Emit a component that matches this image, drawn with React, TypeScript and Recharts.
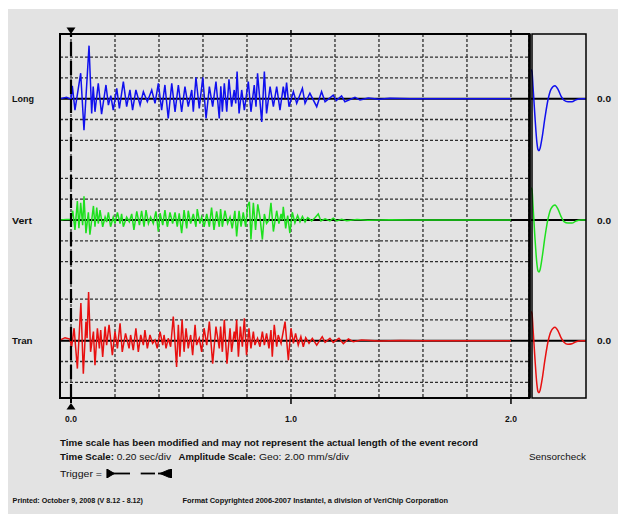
import React from "react";
import { CartesianGrid, Line, LineChart, ReferenceLine, XAxis, YAxis } from "recharts";

// time axis (sec), 0.20 sec/div
const timeTicks = [0, 0.2, 0.4, 0.6, 0.8, 1.0, 1.2, 1.4, 1.6, 1.8, 2.0];
const labelledTicks = [0, 1, 2];
// amplitude grid (mm/s), 2.00 mm/s/div
const gridLevels = [-4, -2, 2, 4];

// [time sec, amplitude mm/s]
const longWave = [
  [-0.05, 0], [-0.02, 0.13], [0, -0.06], [0.006, 1.23], [0.018, -1.1], [0.044, 2.45], [0.059, -3.03],
  [0.082, 5.1], [0.094, -1.42], [0.101, 1.16], [0.109, -1.26], [0.124, 1.48], [0.139, -1.48], [0.159, 1.32],
  [0.17, -0.61], [0.181, 0.3], [0.192, -1.1], [0.208, 1.0], [0.22, -0.94], [0.238, 1.65], [0.253, -0.77],
  [0.268, 0.84], [0.28, -1.1], [0.295, 0.84], [0.314, -0.61], [0.329, 0.68], [0.347, -0.29], [0.367, 0.84],
  [0.382, -0.45], [0.397, 1.48], [0.412, -1.1], [0.427, 1.32], [0.442, -1.9], [0.458, 1.48], [0.473, -1.26],
  [0.488, 1.32], [0.503, -1.26], [0.518, 1.16], [0.533, -0.77], [0.549, 0.84], [0.556, -1.26], [0.568, 2.06],
  [0.583, -0.94], [0.599, 2.06], [0.614, -1.9], [0.629, 1.16], [0.644, -0.77], [0.659, 1.65], [0.674, -1.9],
  [0.681, 1.2], [0.688, -1.26], [0.697, 1.48], [0.708, -1.26], [0.718, 1.87], [0.73, -0.77], [0.742, 0.84],
  [0.749, -0.45], [0.755, 2.61], [0.764, -1.42], [0.776, 0.84], [0.788, -1.1], [0.806, 1.65], [0.818, -1.26],
  [0.833, 1.32], [0.841, -0.77], [0.848, 2.45], [0.867, -2.23], [0.879, 2.61], [0.889, -1.42], [0.905, 1.16],
  [0.92, -0.77], [0.935, 1.16], [0.95, -1.1], [0.965, 1.16], [0.973, 0.03], [0.98, 1.55], [0.991, -0.77],
  [1.011, 0.68], [1.026, -0.45], [1.052, 1.0], [1.064, -0.45], [1.086, 0.52], [1.117, -0.77], [1.139, 0.68],
  [1.155, -0.29], [1.192, 0.35], [1.206, -0.19], [1.23, 0.26], [1.245, -0.29], [1.291, 0.13], [1.314, -0.13],
  [1.351, 0.06], [1.4, -0.05], [1.45, 0.04], [1.54, 0], [2.0, 0],
];

const vertWave = [
  [-0.05, 0], [-0.02, 0.06], [0, 0.06], [0.008, 0.89], [0.018, -0.95], [0.029, 1.82], [0.036, -0.8],
  [0.044, 1.66], [0.053, -0.49], [0.059, 2.28], [0.068, -1.26], [0.079, 0.74], [0.086, -1.42], [0.102, 1.35],
  [0.109, -0.65], [0.117, 1.2], [0.124, -0.34], [0.132, 0.95], [0.144, -0.65], [0.155, 0.28], [0.162, -0.2],
  [0.17, 0.74], [0.18, -0.65], [0.192, 0.28], [0.2, -0.34], [0.211, 0.74], [0.223, -0.34], [0.23, 0.58],
  [0.238, -0.65], [0.253, 0.28], [0.265, -0.18], [0.276, 0.58], [0.286, -0.95], [0.299, 0.83], [0.311, -0.49],
  [0.321, 0.89], [0.332, -0.65], [0.341, 0.95], [0.352, -0.34], [0.362, 0.28], [0.374, -0.34], [0.386, 0.83],
  [0.397, -1.11], [0.405, 0.65], [0.417, -0.49], [0.427, 0.95], [0.438, -0.65], [0.45, 0.74], [0.462, -0.34],
  [0.473, 0.74], [0.483, -0.65], [0.492, 0.65], [0.503, -1.26], [0.514, 0.95], [0.526, -0.8], [0.533, 0.89],
  [0.544, -0.34], [0.556, 0.58], [0.568, -0.65], [0.574, 1.05], [0.586, -0.34], [0.594, 0.28], [0.605, -0.65],
  [0.617, 0.58], [0.629, -0.65], [0.639, 1.2], [0.65, -0.95], [0.662, 0.83], [0.674, -0.65], [0.68, 1.05],
  [0.688, -0.65], [0.7, 0.89], [0.712, -0.34], [0.723, 0.28], [0.733, -0.8], [0.745, 0.89], [0.753, -1.57],
  [0.764, 0.89], [0.773, -0.65], [0.783, 0.74], [0.794, -0.65], [0.803, 1.35], [0.811, 1.75], [0.818, -1.88],
  [0.829, 1.66], [0.839, -0.95], [0.849, 1.51], [0.859, 0.28], [0.87, -1.88], [0.879, 0.58], [0.889, -0.34],
  [0.9, -0.03], [0.909, 1.66], [0.92, -1.11], [0.935, 0.89], [0.945, -0.34], [0.955, 0.58], [0.961, -0.03],
  [0.965, 1.26], [0.976, -0.8], [0.985, 0.43], [0.995, -1.26], [1.006, 0.74], [1.018, -0.28], [1.03, 0.43],
  [1.041, -0.18], [1.052, 0.34], [1.064, -0.18], [1.076, 0.22], [1.094, -0.09], [1.109, 0.22], [1.124, 0.58],
  [1.136, -0.09], [1.155, 0.12], [1.177, -0.09], [1.192, 0.18], [1.208, -0.09], [1.23, 0.06], [1.253, -0.06],
  [1.3, 0.04], [1.35, -0.03], [1.45, 0.02], [1.55, 0], [2.0, 0],
];

const tranWave = [
  [-0.05, 0.06], [-0.027, 0.29], [-0.005, 0.16], [0.003, -0.58], [0.014, 1.2], [0.029, -2.68], [0.045, 3.62],
  [0.056, -3.17], [0.068, 1.84], [0.073, 0.23], [0.08, 4.68], [0.089, -1.07], [0.102, 0.87], [0.109, -2.36],
  [0.12, 1.2], [0.129, -0.74], [0.135, 1.03], [0.144, -1.55], [0.155, 1.36], [0.162, -0.42], [0.173, 1.52],
  [0.188, -1.39], [0.2, 0.87], [0.211, -0.74], [0.223, 1.68], [0.233, -1.07], [0.248, 0.71], [0.264, -0.74],
  [0.271, 0.55], [0.283, -0.9], [0.295, 1.2], [0.306, -1.07], [0.317, 0.55], [0.329, -0.42], [0.336, 1.03],
  [0.347, -0.74], [0.359, 0.55], [0.371, -0.26], [0.382, 0.06], [0.392, -0.74], [0.405, 0.87], [0.417, -0.42],
  [0.423, 0.55], [0.432, -0.74], [0.442, 0.23], [0.453, -0.58], [0.465, 2.33], [0.48, -2.52], [0.488, 1.52],
  [0.495, -1.55], [0.505, 2.0], [0.514, -1.07], [0.523, 1.2], [0.533, -0.74], [0.544, 0.55], [0.553, -1.39],
  [0.564, 1.52], [0.571, -0.42], [0.583, 0.23], [0.594, -1.07], [0.605, 1.2], [0.617, -0.42], [0.629, 1.84],
  [0.644, -2.2], [0.659, 1.36], [0.674, -0.74], [0.68, 1.36], [0.688, -1.07], [0.697, 2.0], [0.709, -2.2],
  [0.723, 1.2], [0.73, -1.07], [0.742, 0.87], [0.747, 0.06], [0.753, 2.0], [0.761, -1.55], [0.77, 1.36],
  [0.779, -0.58], [0.788, 2.16], [0.798, -1.39], [0.809, 1.2], [0.818, -0.74], [0.829, 0.87], [0.836, -0.42],
  [0.848, 0.23], [0.859, -0.58], [0.87, 0.87], [0.879, -0.42], [0.889, 0.71], [0.9, -0.74], [0.909, 1.03],
  [0.915, -1.55], [0.924, 1.52], [0.935, -0.58], [0.942, 0.55], [0.955, -0.26], [0.973, 1.84], [0.988, -1.87],
  [1.0, 1.2], [1.011, -0.26], [1.021, 0.71], [1.033, -0.42], [1.045, 0.39], [1.056, -0.58], [1.067, 0.29],
  [1.082, -0.26], [1.097, 0.23], [1.117, -0.42], [1.142, 0.39], [1.155, -0.16], [1.177, 0.23], [1.192, -0.16],
  [1.218, 0.23], [1.238, -0.29], [1.261, 0.16], [1.283, -0.1], [1.321, 0.06], [1.4, -0.03], [1.5, 0.02],
  [1.6, 0], [2.0, 0],
];

// sensorcheck pulse (ms, mm/s)
const sensorTime = [0, 1, 2, 3, 4, 5, 6, 7, 8, 9, 11, 14, 17, 20, 24, 27, 30, 33, 37, 41, 45, 50, 55];
const sensorLong = [2.8, 2.6, 1.2, -0.3, -1.8, -3.2, -4.3, -4.9, -5.0, -4.8, -3.8, -1.8, -0.1, 0.9, 1.25, 0.9, 0.25, -0.15, -0.3, -0.3, -0.1, 0, 0];
const sensorVert = [3.1, 2.9, 1.4, -0.2, -1.8, -3.2, -4.3, -4.9, -5.0, -4.8, -3.7, -1.6, 0.1, 1.1, 1.45, 1.05, 0.35, -0.15, -0.3, -0.3, -0.1, 0, 0];
const sensorTran = [2.8, 2.6, 1.2, -0.3, -1.8, -3.2, -4.3, -4.9, -5.0, -4.8, -3.8, -1.8, -0.1, 0.9, 1.3, 0.95, 0.3, -0.15, -0.35, -0.3, -0.1, 0, 0];

const PLOT_TOP = 25;
const PLOT_H = 364;
const PX_PER_MM = 10.4; // 20.8 px per 2 mm/s division
const SPAN = PLOT_H / PX_PER_MM;

const channels = [
  { id: "long", name: "Long", len: 22, color: "#1010ee", wave: longWave, zero: 64.7 },
  { id: "vert", name: "Vert", len: 20, color: "#1ee01e", wave: vertWave, zero: 186 },
  { id: "tran", name: "Tran", len: 20.5, color: "#e81010", wave: tranWave, zero: 306.7 },
];

const domainFor = (zero: number) => [zero / PX_PER_MM - SPAN, zero / PX_PER_MM];
const toPoints = (w: number[][]) => w.map(([t, v]) => ({ t, v }));

const sensorRows = sensorTime.map((t, i) => ({
  t,
  long: sensorLong[i],
  vert: sensorVert[i],
  tran: sensorTran[i],
}));

const GRID = "#2e2e2e";
const TEXT = "#111";

const TimeTick = (props: any) => {
  const { x, y, payload } = props;
  const v = payload.value;
  if (!labelledTicks.some((l) => Math.abs(l - v) < 1e-6)) return <g />;
  return (
    <g>
      {Math.abs(v) < 1e-6 ? (
        <>
          <line x1={x} x2={x} y1={y} y2={y + 5} stroke="#000" strokeWidth={2} />
          <polygon points={`${x},${y + 5} ${x - 4.5},${y + 11.5} ${x + 4.5},${y + 11.5}`} fill="#000" />
        </>
      ) : (
        <>
          <line x1={x} x2={x} y1={y} y2={y + 6} stroke="#000" strokeWidth={1.5} />
          <line x1={x} x2={x} y1={y - PLOT_H - 4} y2={y - PLOT_H} stroke="#000" strokeWidth={1.5} />
        </>
      )}
      <text x={x} y={y + 24} textAnchor="middle" fontSize={8.5} fontWeight="bold" fill={TEXT}>
        {v.toFixed(1)}
      </text>
    </g>
  );
};

const TriggerTop = (props: any) => {
  const vb = props.viewBox || {};
  const x = vb.x ?? 0;
  const y = vb.y ?? 0;
  return <polygon points={`${x - 4.5},${y - 6.5} ${x + 4.5},${y - 6.5} ${x},${y}`} fill="#000" />;
};

const ChannelLabel = (props: any) => {
  const vb = props.viewBox || {};
  return (
    <text x={(vb.x ?? 0) - 48} y={(vb.y ?? 0) + 3.5} fontSize={9.5} fontWeight="bold" fill={TEXT}
      textLength={props.len} lengthAdjust="spacingAndGlyphs">
      {props.text}
    </text>
  );
};

const ZeroLabel = (props: any) => {
  const vb = props.viewBox || {};
  return (
    <text x={(vb.x ?? 0) + (vb.width ?? 0) + 11} y={(vb.y ?? 0) + 3.5} fontSize={9} fontWeight="bold" fill={TEXT}
      textLength={14} lengthAdjust="spacingAndGlyphs">
      0.0
    </text>
  );
};

const T = (p: { x: number; y: number; len: number; size?: number; bold?: boolean; children: string }) => (
  <text x={p.x} y={p.y} fontSize={p.size ?? 9.5} fontWeight={p.bold ? "bold" : "normal"} fill={TEXT}
    textLength={p.len} lengthAdjust="spacingAndGlyphs">
    {p.children}
  </text>
);

const App: React.FC = () => {
  return (
    <div style={{ position: "absolute", left: 8, top: 9, width: 610, height: 505, background: "#e3e3e3",
      fontFamily: "'Liberation Sans', Arial, sans-serif" }}>
      <div style={{ position: "absolute", left: 0, top: 0 }}>
        <LineChart width={610} height={PLOT_TOP + PLOT_H + 30} margin={{ top: PLOT_TOP, right: 89, bottom: 0, left: 52 }}>
          <CartesianGrid horizontal={false} yAxisId="long" stroke={GRID} strokeDasharray="3 2" strokeWidth={1.3} />
          <XAxis dataKey="t" type="number" domain={[-0.05, 2.082]} ticks={timeTicks} interval={0}
            axisLine={false} tickLine={false} tickSize={0} tickMargin={0} height={30}
            tick={<TimeTick />} allowDataOverflow />
          {channels.map((c) => (
            <YAxis key={c.id} yAxisId={c.id} hide type="number" domain={domainFor(c.zero)} allowDataOverflow />
          ))}
          {channels.map((c) =>
            gridLevels.map((g) => (
              <ReferenceLine key={`${c.id}-${g}`} yAxisId={c.id} y={g} stroke={GRID}
                strokeDasharray="3 2" strokeWidth={1.3} />
            ))
          )}
          {channels.map((c) => (
            <ReferenceLine key={`${c.id}-zero`} yAxisId={c.id} y={0} stroke="#000" strokeWidth={2}
              label={<ChannelLabel text={c.name} len={c.len} />} />
          ))}
          {channels.map((c) => (
            <Line key={c.id} yAxisId={c.id} data={toPoints(c.wave)} dataKey="v" type="linear"
              stroke={c.color} strokeWidth={1.5} dot={false} isAnimationActive={false} />
          ))}
          <ReferenceLine x={0} yAxisId="long" stroke="#000" strokeWidth={2.2} strokeDasharray="14 5"
            label={<TriggerTop />} />
        </LineChart>
      </div>

      <div style={{ position: "absolute", left: 523, top: 0 }}>
        <LineChart width={87} height={PLOT_TOP + PLOT_H} data={sensorRows}
          margin={{ top: PLOT_TOP, right: 32, bottom: 0, left: 0 }}>
          <XAxis dataKey="t" type="number" domain={[0, 55]} hide />
          {channels.map((c) => (
            <YAxis key={c.id} yAxisId={c.id} hide type="number" domain={domainFor(c.zero)} allowDataOverflow />
          ))}
          {channels.map((c) => (
            <ReferenceLine key={`${c.id}-zero`} yAxisId={c.id} y={0} stroke="#000" strokeWidth={2}
              label={<ZeroLabel />} />
          ))}
          {channels.map((c) => (
            <Line key={c.id} yAxisId={c.id} dataKey={c.id} type="monotone" stroke={c.color}
              strokeWidth={1.5} dot={false} isAnimationActive={false} />
          ))}
        </LineChart>
      </div>

      <svg width={610} height={505} style={{ position: "absolute", left: 0, top: 0, pointerEvents: "none" }}>
        <rect x={52} y={PLOT_TOP} width={469.5} height={PLOT_H} fill="none" stroke="#000" strokeWidth={2} />
        <line x1={521.5} x2={521.5} y1={PLOT_TOP} y2={PLOT_TOP + PLOT_H} stroke="#000" strokeWidth={2.6} />
        <rect x={524} y={PLOT_TOP} width={54} height={PLOT_H} fill="none" stroke="#000" strokeWidth={1.5} />

        <T x={52} y={437} len={418} bold>
          Time scale has been modified and may not represent the actual length of the event record
        </T>
        <T x={52} y={451} len={54} bold>Time Scale:</T>
        <T x={108.7} y={451} len={54.3}>0.20 sec/div</T>
        <T x={170.6} y={451} len={77.4} bold>Amplitude Scale:</T>
        <T x={251} y={451} len={90}>Geo: 2.00 mm/s/div</T>
        <T x={521} y={451} len={57}>Sensorcheck</T>
        <T x={52} y={468} len={42}>Trigger =</T>

        <g stroke="#000" fill="#000">
          <line x1={99.4} x2={99.4} y1={460} y2={469} strokeWidth={2} />
          <polygon points="100.4,461 106.4,464.5 100.4,468" />
          <line x1={101} x2={122} y1={464.5} y2={464.5} strokeWidth={1.8} />
          <line x1={132.7} x2={147} y1={464.5} y2={464.5} strokeWidth={1.8} />
          <line x1={150} x2={161} y1={464.5} y2={464.5} strokeWidth={1.8} />
          <polygon points="152,464.5 161.5,460.5 161.5,468.5" />
          <line x1={163} x2={163} y1={460} y2={469} strokeWidth={2} />
        </g>

        <T x={4.6} y={494} len={130.4} size={7} bold>Printed: October 9, 2008 (V 8.12 - 8.12)</T>
        <T x={174.5} y={494} len={265.5} size={7} bold>
          Format Copyrighted 2006-2007 Instantel, a division of VeriChip Corporation
        </T>
      </svg>
    </div>
  );
};

export default App;
